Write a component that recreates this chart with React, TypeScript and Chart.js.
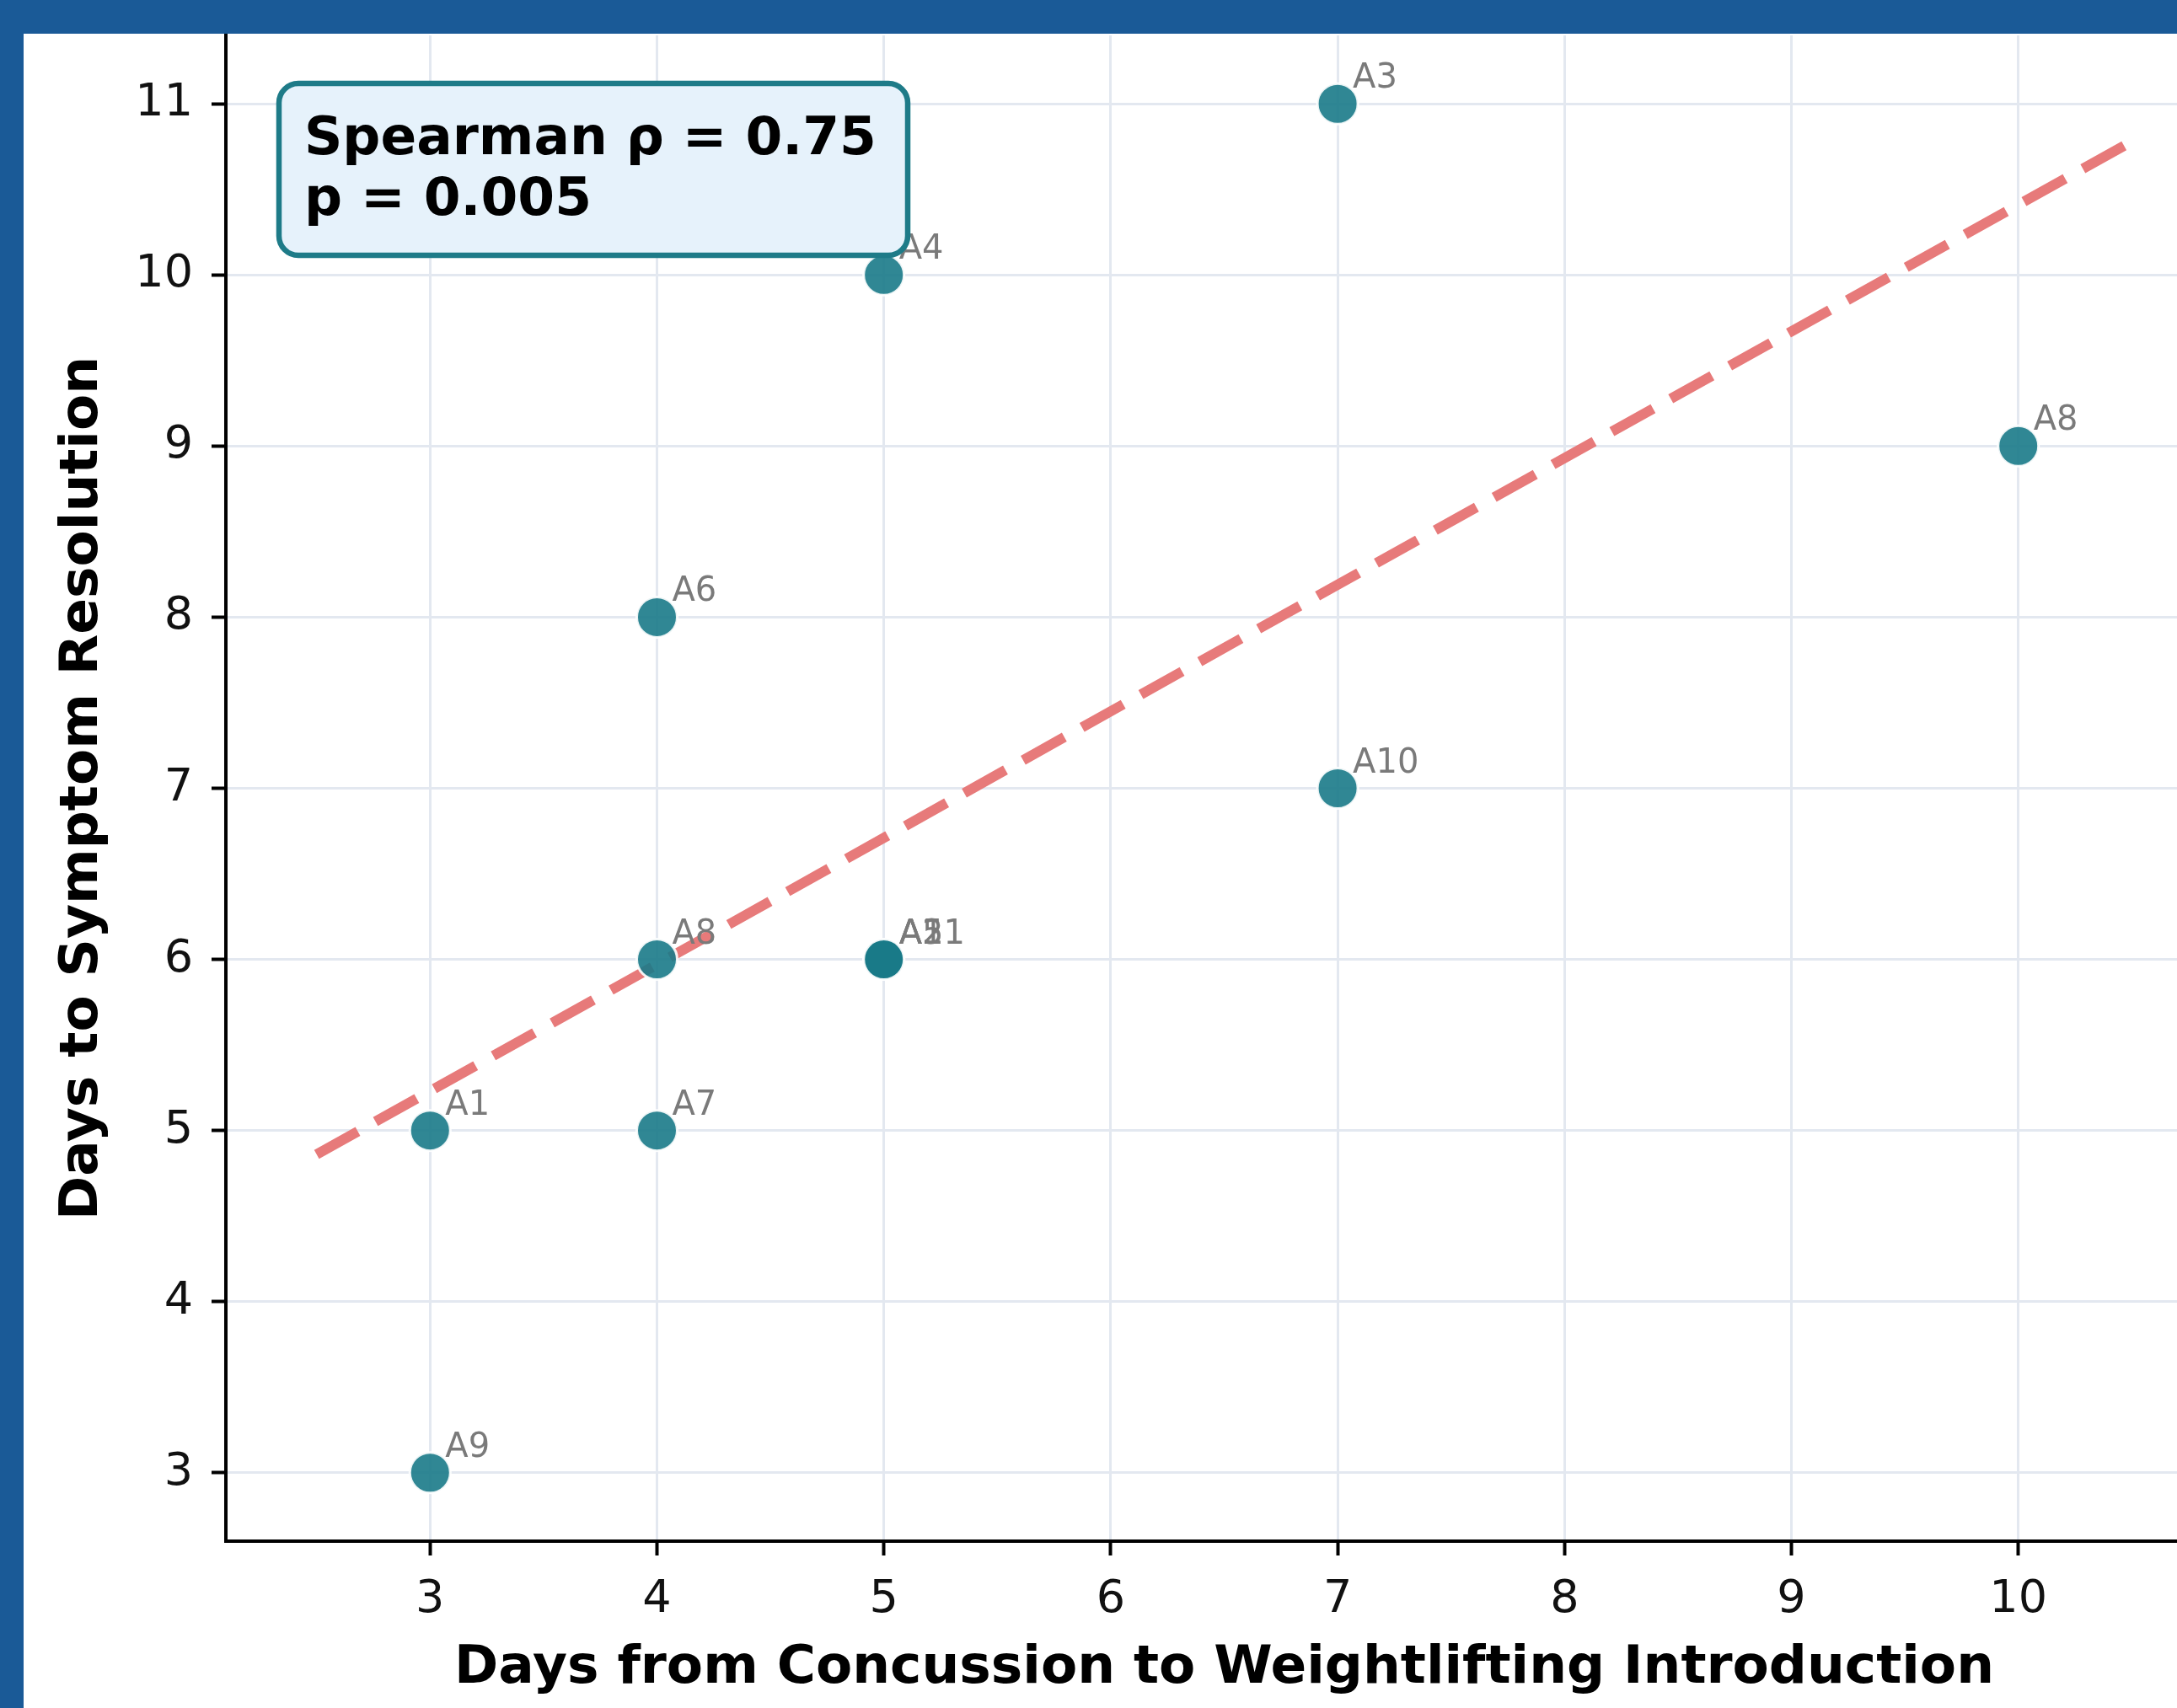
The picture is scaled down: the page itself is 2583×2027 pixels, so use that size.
import React, { useEffect, useRef } from "react";
import { Chart, registerables } from "chart.js";

Chart.register(...registerables);

// ---- Data ----
const athleteLabels = ["A1", "A9", "A6", "A8", "A7", "A4", "A2", "A5", "A11", "A3", "A10", "A8"];
const daysToWeightlifting = [3, 3, 4, 4, 4, 5, 5, 5, 5, 7, 7, 10];
const daysToResolution = [5, 3, 8, 6, 5, 10, 6, 6, 6, 11, 7, 9];
const trendX = [2.5, 10.5];
const trendY = [4.86, 10.78];
const xTicks = [3, 4, 5, 6, 7, 8, 9, 10];
const yTicks = [3, 4, 5, 6, 7, 8, 9, 10, 11];
const xLimits = [2.1, 10.9];
const yLimits = [2.6, 11.4];
const statsLines = ["Spearman \u03C1 = 0.75", "p = 0.005"];
const xTitle = "Days from Concussion to Weightlifting Introduction";
const yTitle = "Days to Symptom Resolution";

const FONT = '"DejaVu Sans", "Liberation Sans", sans-serif';

const overlayPlugin = {
  id: "overlay",
  afterDatasetsDraw(chart: any) {
    const ctx = chart.ctx as CanvasRenderingContext2D;
    const meta = chart.getDatasetMeta(0);
    ctx.save();
    ctx.font = `40px ${FONT}`;
    ctx.fillStyle = "#7a7a7a";
    ctx.textBaseline = "alphabetic";
    ctx.textAlign = "left";
    meta.data.forEach((pt: any, i: number) => {
      ctx.fillText(athleteLabels[i], pt.x + 18, pt.y - 19);
    });
    // stats box
    const { left, top } = chart.chartArea;
    const bx = left + 63;
    const by = top + 57;
    const bw = 746;
    const bh = 204;
    ctx.beginPath();
    (ctx as any).roundRect(bx, by, bw, bh, 23);
    ctx.fillStyle = "#E6F2FB";
    ctx.fill();
    ctx.lineWidth = 6.5;
    ctx.strokeStyle = "#1E7B88";
    ctx.stroke();
    ctx.fillStyle = "#000";
    ctx.font = `bold 63px ${FONT}`;
    ctx.fillText(statsLines[0], bx + 30, by + 84);
    ctx.fillText(statsLines[1], bx + 30, by + 156);
    ctx.restore();
  },
};

export default function App() {
  const ref = useRef<HTMLCanvasElement | null>(null);

  useEffect(() => {
    if (!ref.current) return;
    Chart.defaults.font.family = FONT;
    const chart = new Chart(ref.current, {
      type: "scatter",
      data: {
        datasets: [
          {
            label: "Athletes",
            data: daysToWeightlifting.map((x, i) => ({ x, y: daysToResolution[i] })),
            backgroundColor: "rgba(26,122,136,0.9)",
            borderColor: "rgba(255,255,255,0.9)",
            borderWidth: 3,
            pointRadius: 24,
            pointHoverRadius: 24,
          },
          {
            label: "Trend",
            data: trendX.map((x, i) => ({ x, y: trendY[i] })),
            showLine: true,
            borderColor: "#E77A7A",
            borderWidth: 12,
            borderDash: [56, 24],
            borderCapStyle: "butt",
            pointRadius: 0,
            fill: false,
          } as any,
        ],
      },
      options: {
        animation: false,
        responsive: false,
        maintainAspectRatio: false,
        layout: { autoPadding: false, padding: { top: 2, left: 0, right: 0, bottom: 0 } },
        plugins: {
          legend: { display: false },
          tooltip: { enabled: false },
        },
        scales: {
          x: {
            type: "linear",
            min: xLimits[0],
            max: xLimits[1],
            afterBuildTicks: (s: any) => {
              s.ticks = xTicks.map((v) => ({ value: v }));
            },
            afterFit: (s: any) => {
              s.height = 198;
              s.paddingLeft = 0;
              s.paddingRight = 0;
            },
            grid: {
              color: "#E3E8F0",
              lineWidth: 3,
              drawTicks: true,
              tickLength: 17,
              tickColor: "#000",
              tickWidth: 4,
            },
            border: { display: true, color: "#000", width: 4 },
            ticks: {
              font: { size: 54 },
              color: "#111",
              padding: 21,
              maxRotation: 0,
              autoSkip: false,
              callback: (v: any) => String(v),
            },
            title: {
              display: true,
              text: xTitle,
              font: { size: 63, weight: "bold" },
              color: "#000",
              padding: { top: 0, bottom: 9 },
            },
          },
          y: {
            type: "linear",
            min: yLimits[0],
            max: yLimits[1],
            afterBuildTicks: (s: any) => {
              s.ticks = yTicks.map((v) => ({ value: v }));
            },
            afterFit: (s: any) => {
              s.width = 240;
              s.paddingTop = 0;
              s.paddingBottom = 0;
            },
            grid: {
              color: "#E3E8F0",
              lineWidth: 3,
              drawTicks: true,
              tickLength: 17,
              tickColor: "#000",
              tickWidth: 4,
            },
            border: { display: true, color: "#000", width: 4 },
            ticks: {
              font: { size: 54 },
              color: "#111",
              padding: 22,
              autoSkip: false,
              callback: (v: any) => String(v),
            },
            title: {
              display: true,
              text: yTitle,
              font: { size: 63, weight: "bold" },
              color: "#000",
              padding: { top: 33, bottom: 0 },
            },
          },
        },
      } as any,
      plugins: [overlayPlugin],
    });
    return () => chart.destroy();
  }, []);

  return (
    <div style={{ position: "fixed", inset: 0, background: "#1A5A97", overflow: "hidden" }}>
      <div
        style={{
          position: "absolute",
          left: 28,
          top: 40,
          right: 0,
          bottom: 0,
          background: "#ffffff",
          overflow: "hidden",
        }}
      >
        <canvas ref={ref} width={2609} height={1987} style={{ display: "block", width: 2609, height: 1987 }} />
      </div>
    </div>
  );
}
